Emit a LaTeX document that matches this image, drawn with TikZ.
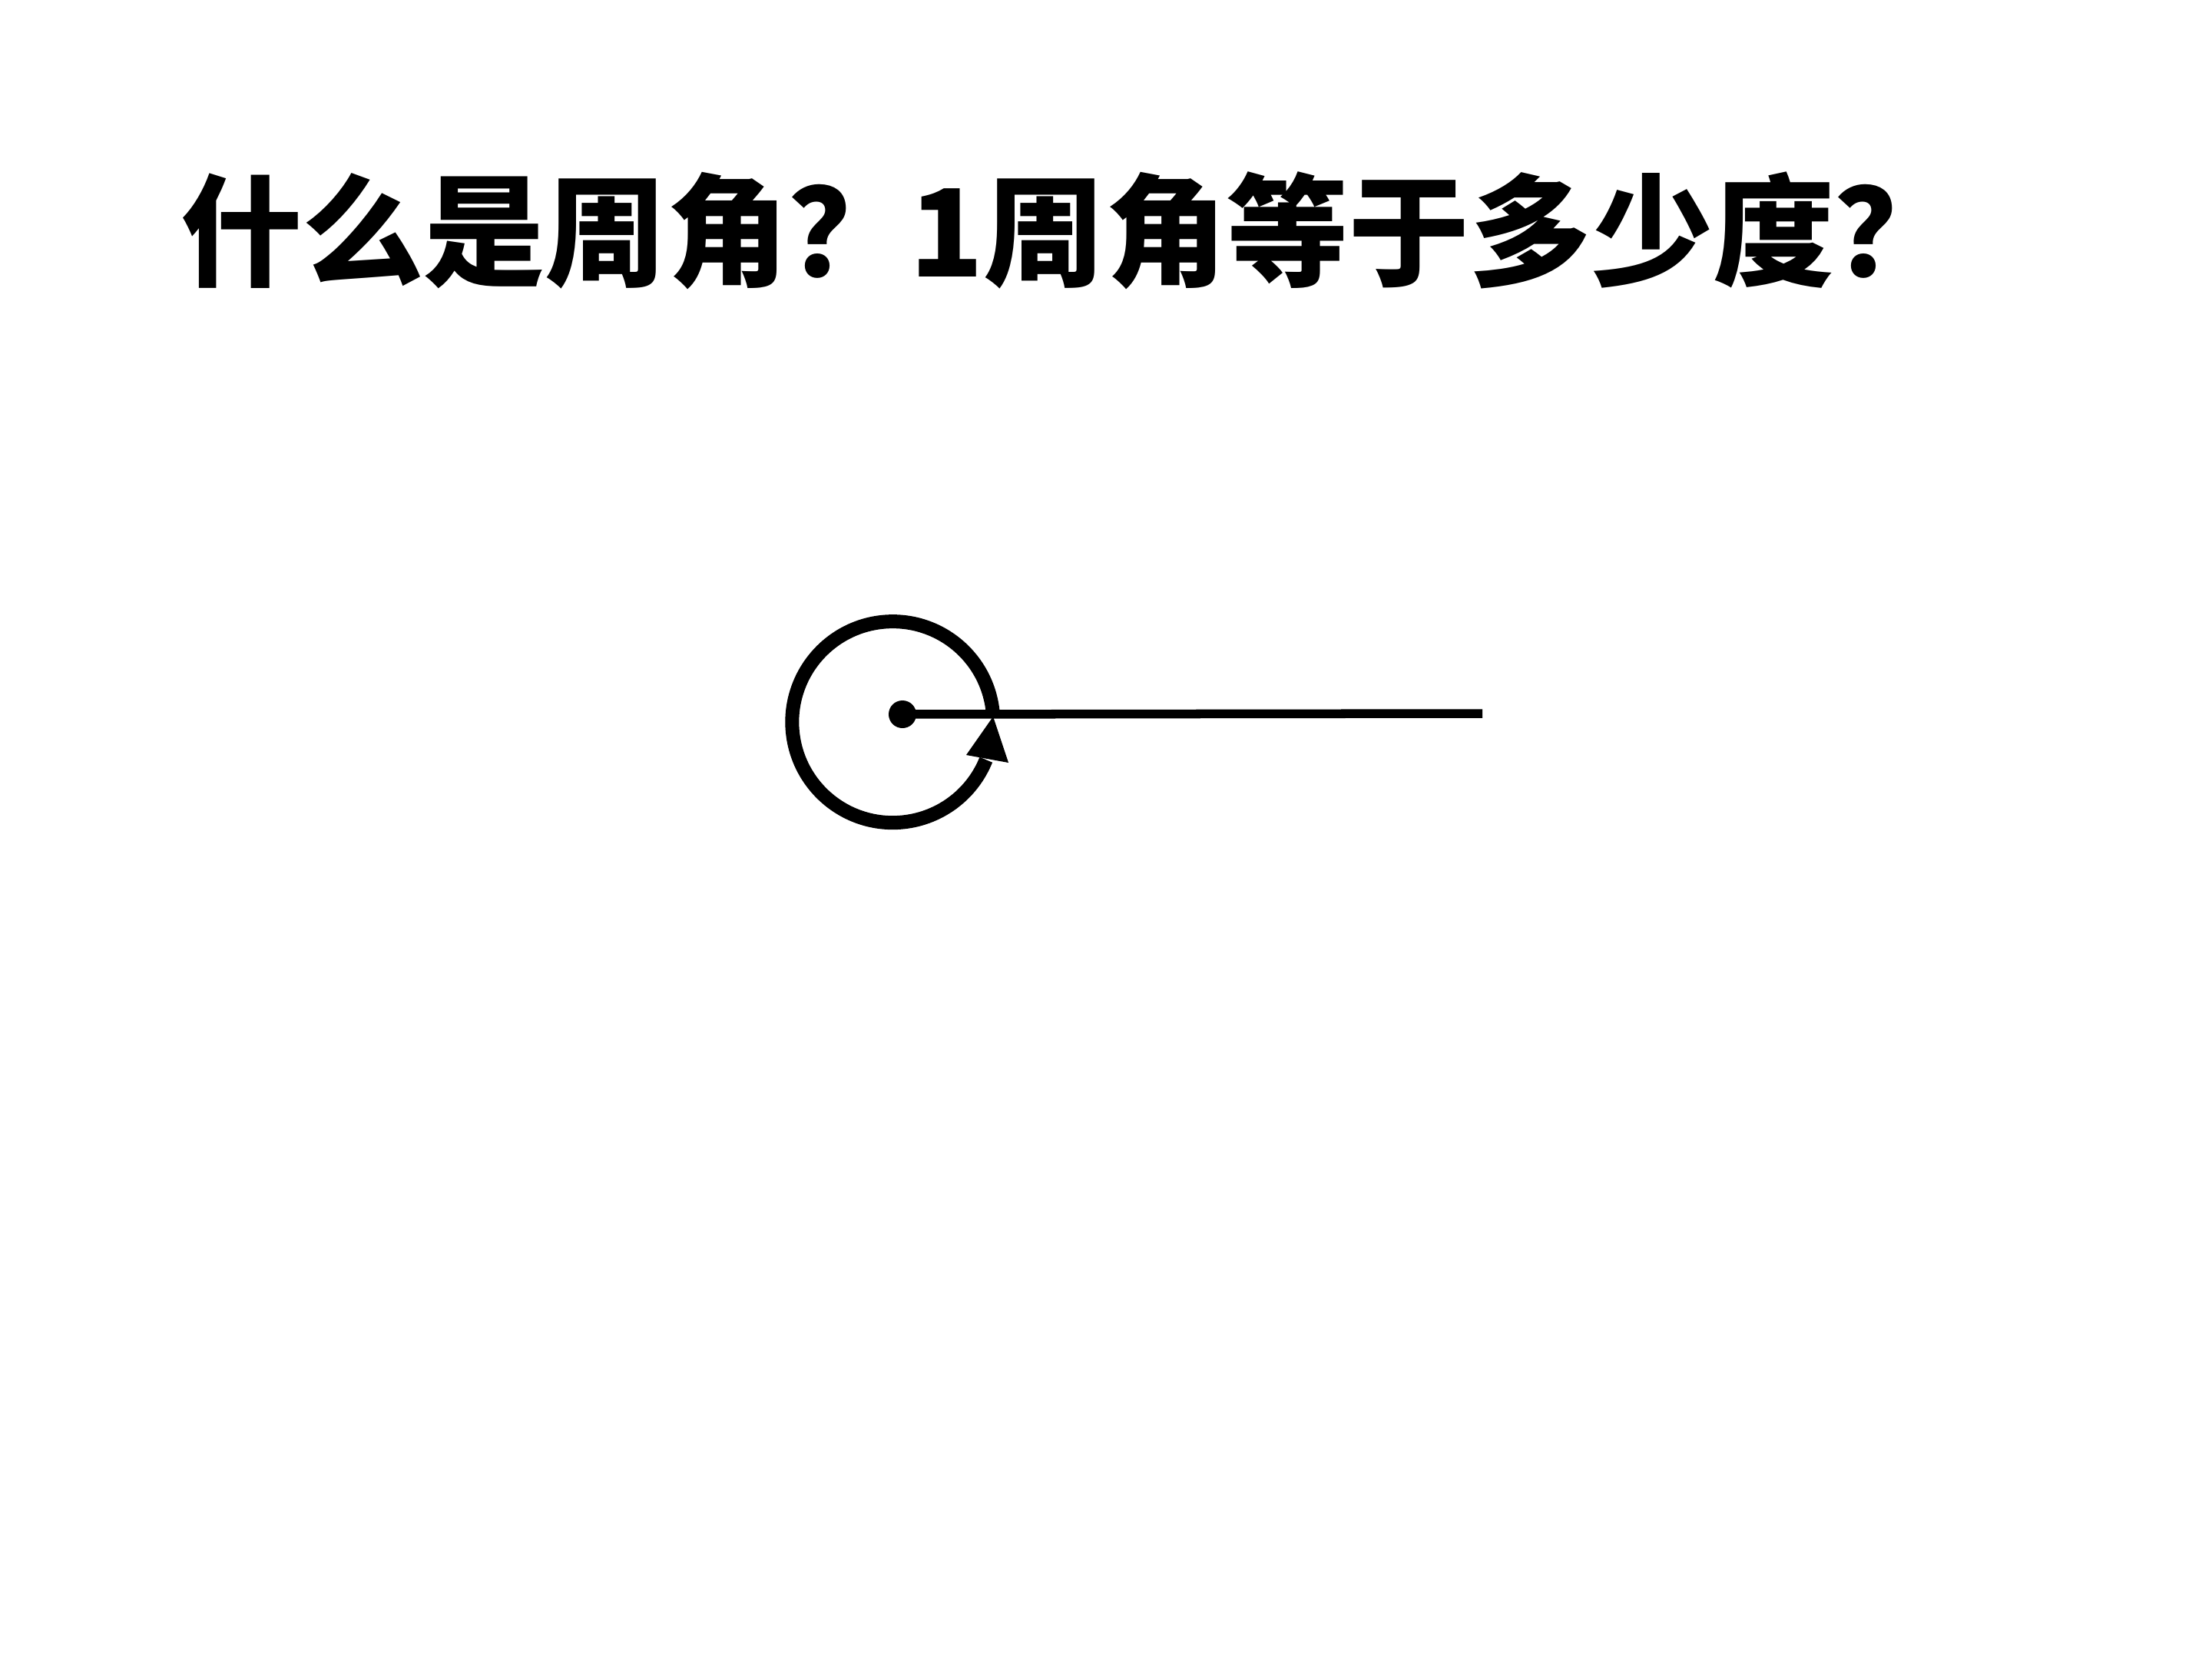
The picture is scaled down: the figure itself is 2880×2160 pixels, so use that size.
\documentclass[tikz,border=0pt]{standalone}
\usepackage{fontspec}
\newfontfamily\cjk{Noto Sans CJK SC}
\begin{document}
\begin{tikzpicture}[x=0.01cm,y=-0.01cm]
\tikzset{
  titletext/.style={font=\cjk\bfseries\fontsize{45}{54}\selectfont, inner sep=0pt},
  centerdot/.style={circle, fill=black, inner sep=0pt, minimum size=0.36cm},
  ray/.style={line width=0.115cm},
  turn/.style={line width=0.18cm}
}
\useasboundingbox (0,0) rectangle (2880,2160);
\node[titletext] (title) at (1391,300) {什么是周角？1周角等于多少度？};
\node[centerdot] (c) at (1175,930) {};
\coordinate (e) at (1930,929);
\draw[ray] (c.center) -- (e);
\draw[turn] (1293,931) arc[start angle=-4, end angle=-338, radius=131];
\fill (1293,933) -- (1258,983) -- (1313,993) -- cycle;
\end{tikzpicture}
\end{document}
